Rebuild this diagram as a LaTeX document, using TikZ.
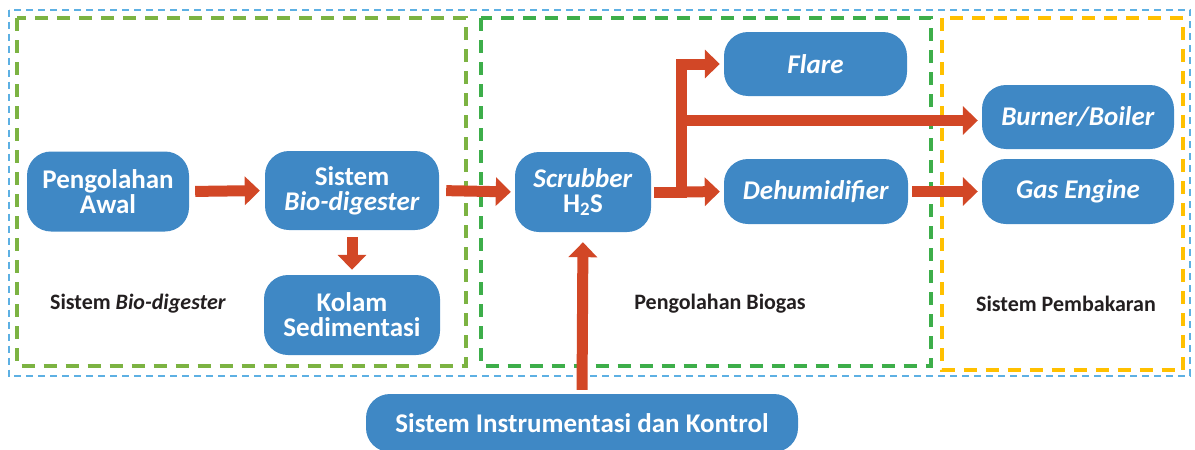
\documentclass[tikz,border=0pt]{standalone}
\usepackage{fontspec}
\setmainfont{Carlito}
\usetikzlibrary{arrows.meta}

\definecolor{boxblue}{HTML}{3F88C5}
\definecolor{flowred}{HTML}{D24726}
\definecolor{outerblue}{HTML}{5DB0E3}
\definecolor{limegreen}{HTML}{7CB342}
\definecolor{midgreen}{HTML}{3DAE4A}
\definecolor{amber}{HTML}{FFC000}
\definecolor{labelink}{HTML}{231F20}

\tikzset{
  block/.style={fill=boxblue, text=white, rounded corners=24pt, align=center,
    font=\bfseries\fontsize{27}{25}\selectfont, inner sep=0pt},
  flow/.style={draw=flowred, line width=11pt,
    -{Triangle[width=28pt,length=15pt]}},
  zone/.style={line width=4pt, dash pattern=on 13pt off 9pt},
  caption/.style={text=labelink, font=\bfseries\fontsize{22}{24}\selectfont}
}

\begin{document}
\begin{tikzpicture}[x=1pt,y=-1pt]
\useasboundingbox (0,0) rectangle (1195,450);

% system boundaries
\draw[outerblue, line width=2pt, dash pattern=on 7pt off 5pt] (8.5,9.5) rectangle (1190,376);
\draw[zone, limegreen] (17,18) rectangle (466,365.5);
\draw[zone, midgreen] (481,18) rectangle (931,365.5);
\draw[zone, amber] (941.5,18) rectangle (1183,370);

% process blocks
\node[block, minimum width=162pt, minimum height=80pt] (awal) at (108,191.5) {Pengolahan\\Awal};
\node[block, minimum width=174pt, minimum height=79pt] (bio) at (352,190.5) {Sistem\\\textit{Bio-digester}};
\node[block, minimum width=176pt, minimum height=80pt] (kolam) at (352,315) {Kolam\\Sedimentasi};
\node[block, minimum width=136pt, minimum height=80pt] (scrub) at (583,192) {\textit{Scrubber}\\H\textsubscript{2}S};
\node[block, minimum width=183pt, minimum height=64pt] (flare) at (815.5,64) {\textit{Flare}};
\node[block, minimum width=184pt, minimum height=65pt] (dehum) at (816,191.5) {\textit{Dehumidifier}};
\node[block, minimum width=192pt, minimum height=64pt] (burner) at (1078,117) {\textit{Burner/Boiler}};
\node[block, minimum width=192pt, minimum height=65pt] (gas) at (1078,191.5) {\textit{Gas Engine}};
\node[block, minimum width=432pt, minimum height=58pt] (instr) at (582,423) {Sistem Instrumentasi dan Kontrol};

% zone captions
\node[caption] (capbio) at (138,304) {Sistem \textit{Bio-digester}};
\node[caption] (capgas) at (720,304) {Pengolahan Biogas};
\node[caption] (capburn) at (1066,304) {Sistem Pembakaran};

% flows
\coordinate (fork) at (681.5,192);
\coordinate (tap) at (681.5,120.5);
\draw[flow, shorten <=6pt, shorten >=5pt] (awal.east) -- (bio.west);
\draw[flow, shorten <=7pt, shorten >=4pt] (bio.east) -- (scrub.west);
\draw[flow, shorten <=7pt, shorten >=5pt] (bio.south) -- (kolam.north);
\draw[flow, shorten <=3pt, shorten >=4pt] (scrub.east) -- (fork) |- (flare.west);
\draw[flow, shorten >=4pt] (fork) -- (dehum.west);
\draw[flow, shorten >=4pt] (tap) -- (tap -| burner.west);
\draw[flow, shorten <=4pt, shorten >=4pt] (dehum.east) -- (gas.west);
\draw[flow, shorten <=4pt, shorten >=10pt] (instr.north) -- (scrub.south);
\end{tikzpicture}
\end{document}
